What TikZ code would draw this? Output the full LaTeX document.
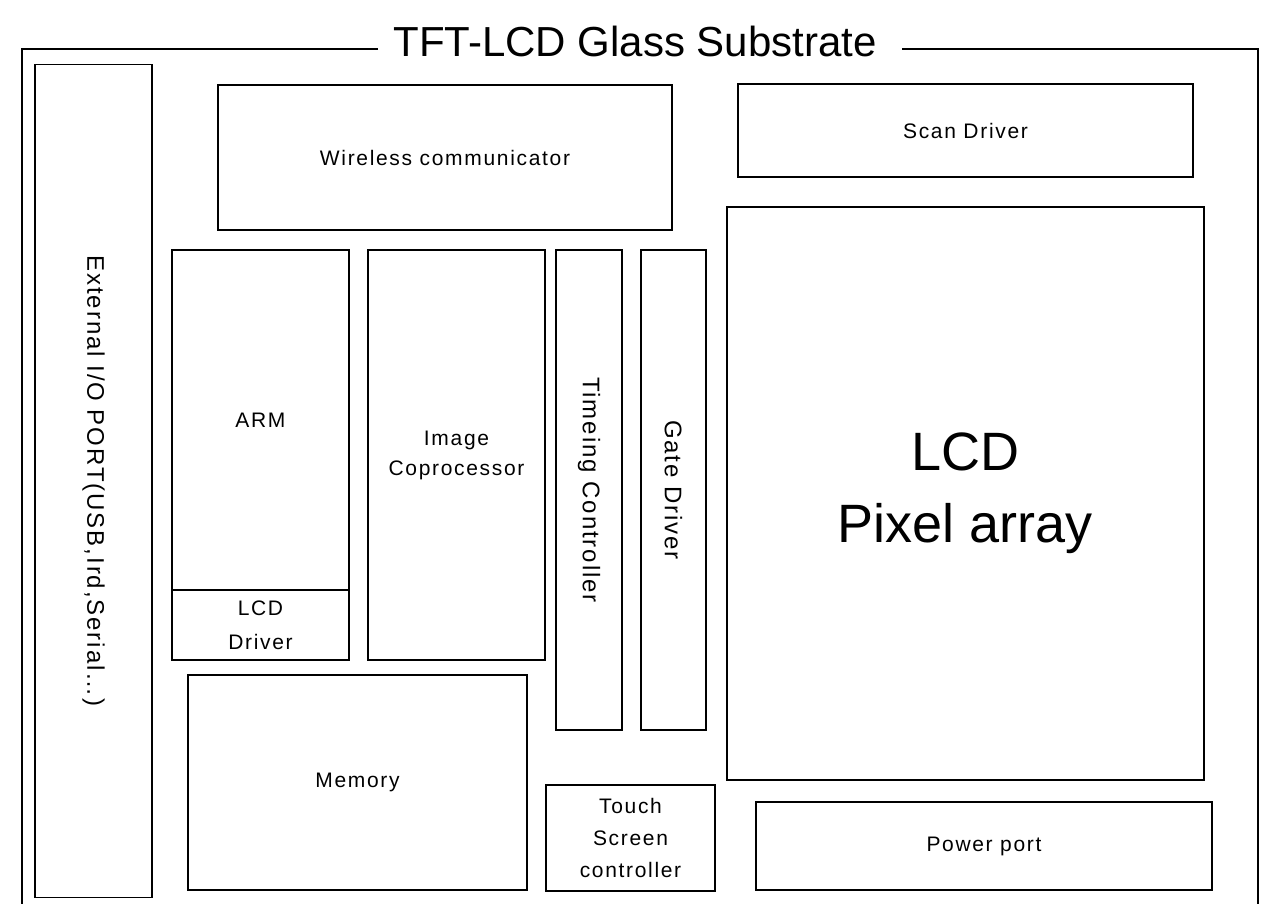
\documentclass[tikz,border=0pt]{standalone}
\usepackage{fontspec}
\setmainfont{Liberation Sans}
\newfontfamily\smallfont[LetterSpace=8]{Liberation Sans}
\begin{document}
\begin{tikzpicture}[x=1pt,y=-1pt,
  blk/.style={draw, line width=1.4pt, inner sep=0pt, align=center,
    font=\smallfont\fontsize{21}{35}\selectfont},
  vtext/.style={font=\smallfont\fontsize{24}{28}\selectfont, rotate=-90},
  frameline/.style={line width=1.4pt}]
\useasboundingbox (0,0) rectangle (1270,904);
% title and frame
\node[anchor=base, font=\fontsize{42}{48}\selectfont, inner sep=0pt] (title) at (635,57) {TFT-LCD Glass Substrate};
\coordinate (fl) at (378,49);
\coordinate (fr) at (902,49);
\draw[frameline] (fl) -- (22,49) -- (22,910);
\draw[frameline] (fr) -- (1258,49) -- (1258,910);
% blocks
\node[blk, minimum width=117pt, minimum height=833pt] (ext) at (93.5,481) {};
\node[vtext] (extt) at (ext.center) {External I/O PORT(USB,Ird,Serial\ldots)};
\node[blk, minimum width=454pt, minimum height=145pt] (wl) at (445,157.5) {Wireless communicator};
\node[blk, minimum width=455pt, minimum height=93pt] (scan) at (965.5,130.5) {Scan Driver};
\node[blk, minimum width=477pt, minimum height=573pt, font=\fontsize{54}{72}\selectfont] (lcd) at (965.5,493.5) {LCD\\Pixel array};
\node[blk, minimum width=177pt, minimum height=340pt] (arm) at (260.5,420) {ARM};
\node[blk, minimum width=177pt, minimum height=70pt, font=\smallfont\fontsize{21}{34}\selectfont] (lcdd) at (260.5,625) {LCD\\Driver};
\node[blk, minimum width=177pt, minimum height=410pt, font=\smallfont\fontsize{21}{30}\selectfont] (img) at (456.5,455) {Image\\Coprocessor};
\node[blk, minimum width=66pt, minimum height=480pt] (tim) at (589,490) {};
\node[vtext] (timt) at (tim.center) {Timeing Controller};
\node[blk, minimum width=65pt, minimum height=480pt] (gate) at (673.5,490) {};
\node[vtext] (gatet) at (gate.center) {Gate Driver};
\node[blk, minimum width=339pt, minimum height=215pt] (mem) at (357.5,782.5) {Memory};
\node[blk, minimum width=169pt, minimum height=106pt, font=\smallfont\fontsize{21}{32}\selectfont] (touch) at (630.5,838) {Touch\\Screen\\controller};
\node[blk, minimum width=456pt, minimum height=88pt] (power) at (984,846) {Power port};
\end{tikzpicture}
\end{document}
